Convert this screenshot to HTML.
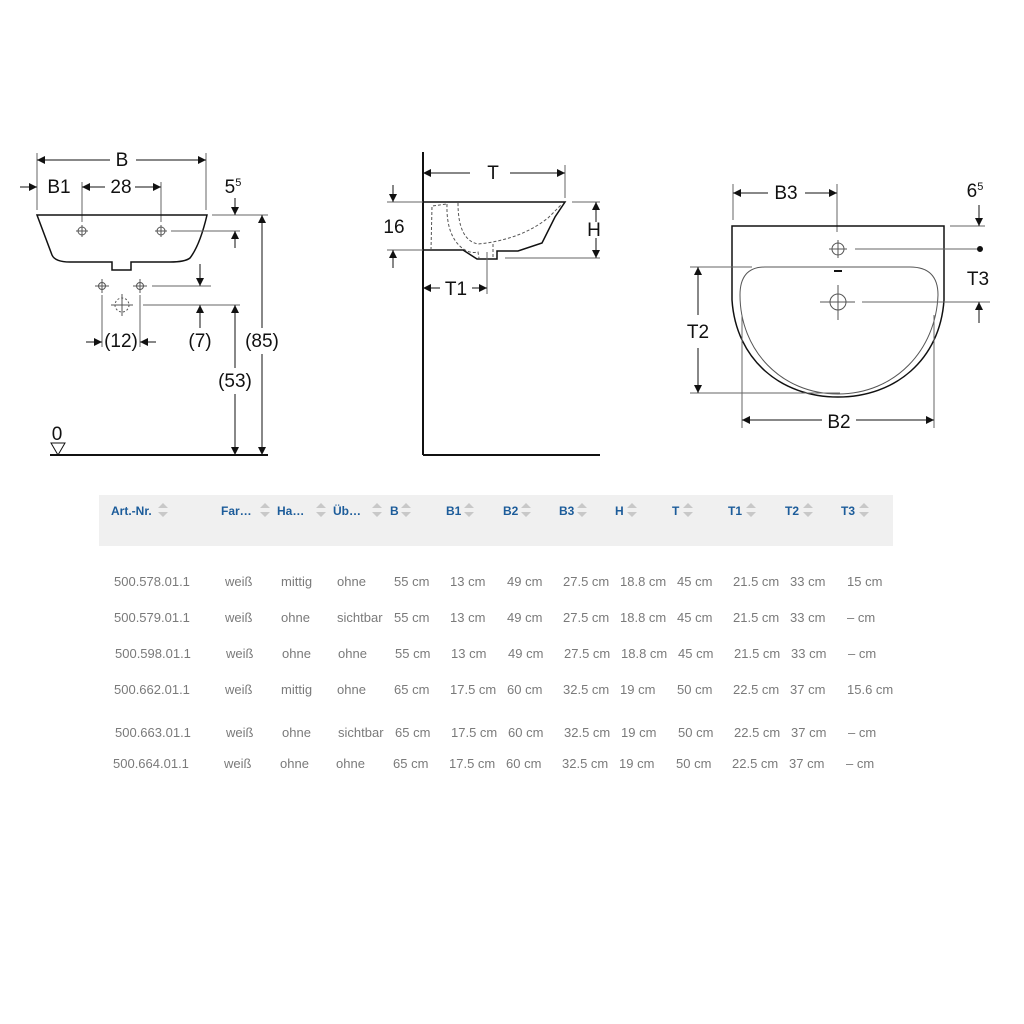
<!DOCTYPE html>
<html><head><meta charset="utf-8"><style>
body{margin:0;background:#fff;width:1024px;height:1024px;overflow:hidden}
svg{position:absolute;left:0;top:0}
.d text{font-family:"Liberation Sans",sans-serif;font-size:19px;fill:#111;text-anchor:middle}
.h{font-family:"Liberation Sans",sans-serif;font-size:12px;font-weight:bold;fill:#1c5c9a}
.r{font-family:"Liberation Sans",sans-serif;font-size:13px;fill:#7a7a7a}
</style></head><body>
<svg width="1024" height="1024" viewBox="0 0 1024 1024">
<defs>
<marker id="a" viewBox="0 0 10 10" refX="10" refY="5" markerWidth="10" markerHeight="8" markerUnits="userSpaceOnUse" orient="auto"><path d="M0,0L10,5L0,10z" fill="#111"/></marker>
</defs>
<g class="d" stroke="#111" stroke-width="1" fill="none">
<!-- LEFT -->
<line x1="37" y1="153" x2="37" y2="210" stroke="#666"/>
<line x1="206" y1="153" x2="206" y2="210" stroke="#666"/>
<line x1="48" y1="160" x2="37" y2="160" marker-end="url(#a)"/><line x1="110" y1="160" x2="48" y2="160"/>
<line x1="136" y1="160" x2="206" y2="160" marker-end="url(#a)"/>
<line x1="20" y1="187" x2="37" y2="187" marker-end="url(#a)"/>
<line x1="82" y1="182" x2="82" y2="222" stroke="#666"/><line x1="161" y1="182" x2="161" y2="222" stroke="#666"/>
<line x1="105" y1="187" x2="82" y2="187" marker-end="url(#a)"/>
<line x1="135" y1="187" x2="161" y2="187" marker-end="url(#a)"/>
<path d="M37,215 L207,215 Q200,245 190,258 Q185,262 170,262 L131,262 L131,270 L112,270 L112,262 L70,262 Q55,262 52,255 Z" stroke-width="1.5"/>
<g stroke="#555"><circle cx="82" cy="231" r="4"/><line x1="76" y1="231" x2="88" y2="231"/><line x1="82" y1="225" x2="82" y2="237"/>
<circle cx="161" cy="231" r="4"/><line x1="155" y1="231" x2="167" y2="231"/><line x1="161" y1="225" x2="161" y2="237"/>
<circle cx="102" cy="286" r="3.5"/><line x1="95" y1="286" x2="109" y2="286"/><line x1="102" y1="279" x2="102" y2="293"/>
<circle cx="140" cy="286" r="3.5"/><line x1="133" y1="286" x2="147" y2="286"/><line x1="140" y1="279" x2="140" y2="293"/>
<circle cx="122" cy="305" r="7" stroke-dasharray="2 2"/><line x1="111" y1="305" x2="133" y2="305"/><line x1="122" y1="294" x2="122" y2="316"/></g>
<line x1="171" y1="231" x2="240" y2="231" stroke="#666"/>
<line x1="212" y1="215" x2="268" y2="215" stroke="#666"/>
<line x1="235" y1="198" x2="235" y2="215" marker-end="url(#a)"/>
<line x1="235" y1="248" x2="235" y2="231" marker-end="url(#a)"/>
<line x1="152" y1="286" x2="211" y2="286" stroke="#666"/>
<line x1="200" y1="264" x2="200" y2="286" marker-end="url(#a)"/>
<line x1="143" y1="305" x2="240" y2="305" stroke="#666"/>
<line x1="200" y1="328" x2="200" y2="305" marker-end="url(#a)"/>
<line x1="262" y1="328" x2="262" y2="215" marker-end="url(#a)"/><line x1="262" y1="354" x2="262" y2="455" marker-end="url(#a)"/>
<line x1="235" y1="368" x2="235" y2="305" marker-end="url(#a)"/><line x1="235" y1="394" x2="235" y2="455" marker-end="url(#a)"/>
<line x1="102" y1="295" x2="102" y2="347" stroke="#666"/><line x1="140" y1="295" x2="140" y2="347" stroke="#666"/>
<line x1="86" y1="342" x2="102" y2="342" marker-end="url(#a)"/><line x1="156" y1="342" x2="140" y2="342" marker-end="url(#a)"/>
<line x1="50" y1="455" x2="268" y2="455" stroke-width="2"/>
<path d="M51,443 L65,443 L58,455 Z"/>
<g stroke="none">
<text x="122" y="166">B</text><text x="59" y="193">B1</text><text x="121" y="193">28</text>
<text x="233" y="193">5<tspan font-size="11" dy="-7">5</tspan></text>
<text x="121" y="347">(12)</text><text x="200" y="347">(7)</text><text x="262" y="347">(85)</text><text x="235" y="387">(53)</text>
<text x="57" y="440" font-size="16">0</text>
</g>
<!-- MIDDLE -->
<line x1="423" y1="152" x2="423" y2="455" stroke-width="2"/>
<line x1="423" y1="455" x2="600" y2="455" stroke-width="2"/>
<line x1="565" y1="165" x2="565" y2="198" stroke="#666"/>
<line x1="470" y1="173" x2="423" y2="173" marker-end="url(#a)"/><line x1="510" y1="173" x2="565" y2="173" marker-end="url(#a)"/>
<line x1="387" y1="202" x2="423" y2="202" stroke="#666"/><line x1="572" y1="202" x2="600" y2="202" stroke="#666"/>
<line x1="387" y1="250" x2="423" y2="250" stroke="#666"/>
<line x1="393" y1="185" x2="393" y2="202" marker-end="url(#a)"/>
<line x1="393" y1="268" x2="393" y2="250" marker-end="url(#a)"/>
<path d="M423,202 L565,202 L555,217 L542,243 L518,251 L497,251 L497,259 L477,259 L463,250 L423,250" stroke-width="1.5"/>
<g stroke="#555" stroke-dasharray="3 2">
<path d="M431,250 L432,206 L447,204"/>
<path d="M447,204 Q446,235 462,248 Q470,254 478,252 L479,258"/>
<path d="M458,203 Q458,240 478,244 Q520,240 548,218 L562,204"/>
<line x1="493" y1="244" x2="493" y2="258"/>
</g>
<line x1="505" y1="258" x2="600" y2="258" stroke="#666"/>
<line x1="596" y1="222" x2="596" y2="202" marker-end="url(#a)"/>
<line x1="596" y1="238" x2="596" y2="258" marker-end="url(#a)"/>
<line x1="487" y1="252" x2="487" y2="294" stroke="#666"/>
<line x1="440" y1="288" x2="423" y2="288" marker-end="url(#a)"/><line x1="472" y1="288" x2="487" y2="288" marker-end="url(#a)"/>
<g stroke="none"><text x="493" y="179">T</text><text x="394" y="233">16</text><text x="594" y="236">H</text><text x="456" y="295">T1</text></g>
<!-- RIGHT -->
<line x1="733" y1="184" x2="733" y2="220" stroke="#666"/><line x1="837" y1="184" x2="837" y2="232" stroke="#666"/>
<line x1="768" y1="193" x2="733" y2="193" marker-end="url(#a)"/><line x1="805" y1="193" x2="837" y2="193" marker-end="url(#a)"/>
<path d="M732,226 L944,226 L944,300 C940,360 895,397 838,397 C781,397 736,360 732,300 Z" stroke-width="1.5"/>
<path d="M765,267 L910,267 Q938,267 938,295 C936,350 895,394 838,394 C781,394 740,350 740,295 Q740,267 765,267 Z" stroke="#555"/>
<g stroke="#555"><circle cx="838" cy="249" r="6"/><line x1="829" y1="249" x2="847" y2="249"/><line x1="838" y1="240" x2="838" y2="258"/>
<circle cx="838" cy="302" r="8"/><line x1="820" y1="302" x2="855" y2="302"/><line x1="838" y1="285" x2="838" y2="320"/></g>
<line x1="834" y1="271" x2="842" y2="271" stroke-width="2"/>
<line x1="855" y1="249" x2="978" y2="249" stroke="#666"/><circle cx="980" cy="249" r="2.5" fill="#111"/>
<line x1="862" y1="302" x2="990" y2="302" stroke="#666"/>
<line x1="950" y1="226" x2="985" y2="226" stroke="#666"/>
<line x1="979" y1="205" x2="979" y2="226" marker-end="url(#a)"/>
<line x1="979" y1="323" x2="979" y2="302" marker-end="url(#a)"/>
<line x1="690" y1="267" x2="752" y2="267" stroke="#666"/><line x1="690" y1="393" x2="840" y2="393" stroke="#666"/>
<line x1="698" y1="315" x2="698" y2="267" marker-end="url(#a)"/><line x1="698" y1="348" x2="698" y2="393" marker-end="url(#a)"/>
<line x1="742" y1="315" x2="742" y2="428" stroke="#666"/><line x1="934" y1="315" x2="934" y2="428" stroke="#666"/>
<line x1="822" y1="420" x2="742" y2="420" marker-end="url(#a)"/><line x1="856" y1="420" x2="934" y2="420" marker-end="url(#a)"/>
<g stroke="none" font-size="20"><text x="786" y="199" font-size="20">B3</text><text x="975" y="197">6<tspan font-size="11" dy="-7">5</tspan></text>
<text x="978" y="285" font-size="20">T3</text><text x="698" y="338" font-size="20">T2</text><text x="839" y="428" font-size="20">B2</text></g>
</g>
<!-- TABLE -->
<rect x="99" y="495" width="794" height="51" fill="#f0f0f0"/>
<g class="h">
<text x="111" y="515">Art.-Nr.</text><text x="221" y="515">Far…</text><text x="277" y="515">Ha…</text><text x="333" y="515">Üb…</text>
<text x="390" y="515">B</text><text x="446" y="515">B1</text><text x="503" y="515">B2</text><text x="559" y="515">B3</text>
<text x="615" y="515">H</text><text x="672" y="515">T</text><text x="728" y="515">T1</text><text x="785" y="515">T2</text><text x="841" y="515">T3</text>
</g>
<g fill="#c8c8c8">
<path d="M158,508 l5,-5 l5,5z M158,512 l5,5 l5,-5z"/>
<path d="M260,508 l5,-5 l5,5z M260,512 l5,5 l5,-5z"/>
<path d="M316,508 l5,-5 l5,5z M316,512 l5,5 l5,-5z"/>
<path d="M372,508 l5,-5 l5,5z M372,512 l5,5 l5,-5z"/>
<path d="M401,508 l5,-5 l5,5z M401,512 l5,5 l5,-5z"/>
<path d="M464,508 l5,-5 l5,5z M464,512 l5,5 l5,-5z"/>
<path d="M521,508 l5,-5 l5,5z M521,512 l5,5 l5,-5z"/>
<path d="M577,508 l5,-5 l5,5z M577,512 l5,5 l5,-5z"/>
<path d="M627,508 l5,-5 l5,5z M627,512 l5,5 l5,-5z"/>
<path d="M683,508 l5,-5 l5,5z M683,512 l5,5 l5,-5z"/>
<path d="M746,508 l5,-5 l5,5z M746,512 l5,5 l5,-5z"/>
<path d="M803,508 l5,-5 l5,5z M803,512 l5,5 l5,-5z"/>
<path d="M859,508 l5,-5 l5,5z M859,512 l5,5 l5,-5z"/>
</g>
<g class="r">
<text y="586"><tspan x="114">500.578.01.1</tspan><tspan x="225">weiß</tspan><tspan x="281">mittig</tspan><tspan x="337">ohne</tspan><tspan x="394">55 cm</tspan><tspan x="450">13 cm</tspan><tspan x="507">49 cm</tspan><tspan x="563">27.5 cm</tspan><tspan x="620">18.8 cm</tspan><tspan x="677">45 cm</tspan><tspan x="733">21.5 cm</tspan><tspan x="790">33 cm</tspan><tspan x="847">15 cm</tspan></text>
<text y="622"><tspan x="114">500.579.01.1</tspan><tspan x="225">weiß</tspan><tspan x="281">ohne</tspan><tspan x="337">sichtbar</tspan><tspan x="394">55 cm</tspan><tspan x="450">13 cm</tspan><tspan x="507">49 cm</tspan><tspan x="563">27.5 cm</tspan><tspan x="620">18.8 cm</tspan><tspan x="677">45 cm</tspan><tspan x="733">21.5 cm</tspan><tspan x="790">33 cm</tspan><tspan x="847">– cm</tspan></text>
<text y="658"><tspan x="115">500.598.01.1</tspan><tspan x="226">weiß</tspan><tspan x="282">ohne</tspan><tspan x="338">ohne</tspan><tspan x="395">55 cm</tspan><tspan x="451">13 cm</tspan><tspan x="508">49 cm</tspan><tspan x="564">27.5 cm</tspan><tspan x="621">18.8 cm</tspan><tspan x="678">45 cm</tspan><tspan x="734">21.5 cm</tspan><tspan x="791">33 cm</tspan><tspan x="848">– cm</tspan></text>
<text y="694"><tspan x="114">500.662.01.1</tspan><tspan x="225">weiß</tspan><tspan x="281">mittig</tspan><tspan x="337">ohne</tspan><tspan x="394">65 cm</tspan><tspan x="450">17.5 cm</tspan><tspan x="507">60 cm</tspan><tspan x="563">32.5 cm</tspan><tspan x="620">19 cm</tspan><tspan x="677">50 cm</tspan><tspan x="733">22.5 cm</tspan><tspan x="790">37 cm</tspan><tspan x="847">15.6 cm</tspan></text>
<text y="737"><tspan x="115">500.663.01.1</tspan><tspan x="226">weiß</tspan><tspan x="282">ohne</tspan><tspan x="338">sichtbar</tspan><tspan x="395">65 cm</tspan><tspan x="451">17.5 cm</tspan><tspan x="508">60 cm</tspan><tspan x="564">32.5 cm</tspan><tspan x="621">19 cm</tspan><tspan x="678">50 cm</tspan><tspan x="734">22.5 cm</tspan><tspan x="791">37 cm</tspan><tspan x="848">– cm</tspan></text>
<text y="768"><tspan x="113">500.664.01.1</tspan><tspan x="224">weiß</tspan><tspan x="280">ohne</tspan><tspan x="336">ohne</tspan><tspan x="393">65 cm</tspan><tspan x="449">17.5 cm</tspan><tspan x="506">60 cm</tspan><tspan x="562">32.5 cm</tspan><tspan x="619">19 cm</tspan><tspan x="676">50 cm</tspan><tspan x="732">22.5 cm</tspan><tspan x="789">37 cm</tspan><tspan x="846">– cm</tspan></text>
</g>
</svg>
</body></html>
